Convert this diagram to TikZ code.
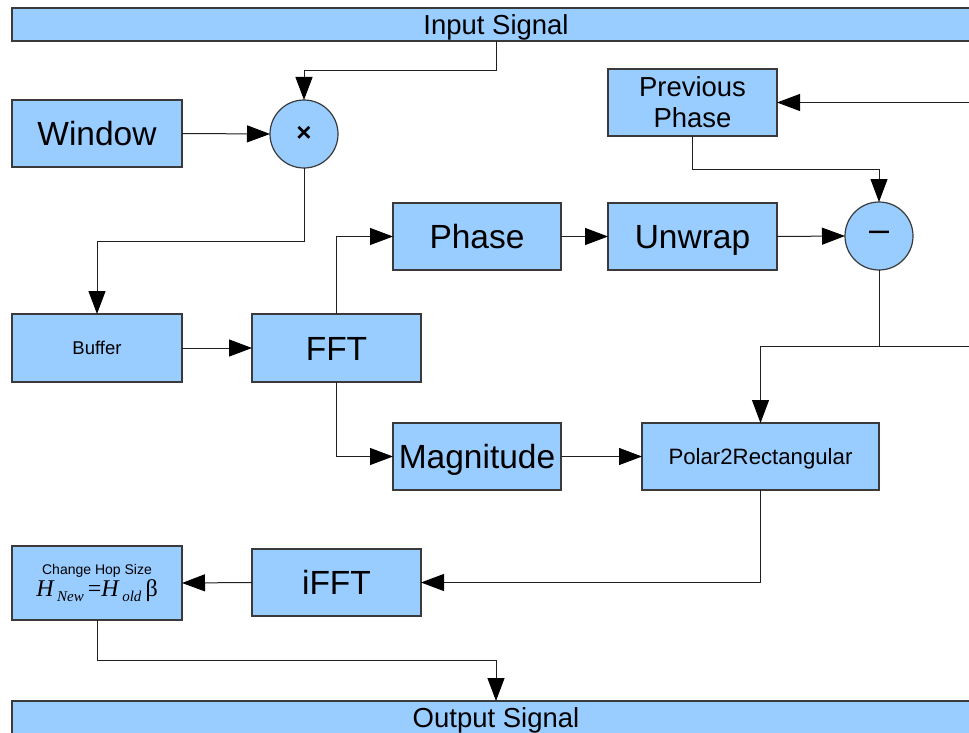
\documentclass[tikz,border=0pt]{standalone}
\usepackage{fontspec}
\setmainfont{Liberation Sans}
\newfontfamily\tms{Liberation Serif}
\usetikzlibrary{arrows.meta}
\definecolor{boxfill}{HTML}{99CCFF}
\definecolor{boxline}{HTML}{3A3A3A}
\definecolor{wire}{HTML}{202020}
\begin{document}
\begin{tikzpicture}[x=1pt,y=-1pt,
  blk/.style={draw=boxline,fill=boxfill,line width=1.2pt,inner sep=0pt,outer sep=0pt,align=center},
  bigtxt/.style={font=\fontsize{33.5}{40}\selectfont,text height=24pt,text depth=0pt},
  midtxt/.style={font=\fontsize{27.5}{31}\selectfont,text height=19.7pt,text depth=0pt},
  circ/.style={blk,circle,minimum size=68pt},
  wr/.style={draw=wire,line width=1pt},
  arr/.style={wr,-{Triangle[length=23pt,width=17pt,color=black,fill=black]}}]
\useasboundingbox (0,0) rectangle (969,733);
\fill[white] (0,0) rectangle (969,733);
% bars
\node[blk,midtxt,minimum width=968pt,minimum height=33pt] (in) at (496,24.5) {Input Signal};
\node[blk,midtxt,minimum width=968pt,minimum height=33pt] (out) at (496,717.5) {Output Signal};
% blocks
\node[blk,bigtxt,minimum width=170pt,minimum height=67pt] (win) at (97,133.5) {Window};
\node[circ,font=\fontsize{26}{30}\selectfont\bfseries] (mul) at (304,134) {×};
\node[blk,font=\fontsize{18.5}{22}\selectfont,text height=13.2pt,text depth=0pt,minimum width=170pt,minimum height=68pt] (buf) at (97,348) {Buffer};
\node[blk,bigtxt,minimum width=169pt,minimum height=68pt] (fft) at (336.5,348) {FFT};
\node[blk,bigtxt,minimum width=168pt,minimum height=67pt] (phase) at (477,236.5) {Phase};
\node[blk,bigtxt,minimum width=169pt,minimum height=67pt] (unwrap) at (692.5,236.5) {Unwrap};
\node[blk,font=\fontsize{27.5}{31}\selectfont,minimum width=169pt,minimum height=67pt] (prev) at (692.5,102.5) {Previous\\Phase};
\node[circ,font=\fontsize{36}{40}\selectfont] (minus) at (879,236) {\raisebox{-3pt}{–}};
\node[blk,bigtxt,minimum width=168pt,minimum height=67pt] (mag) at (477,456.5) {Magnitude};
\node[blk,font=\fontsize{22.2}{26}\selectfont,text height=15.9pt,text depth=0pt,minimum width=237pt,minimum height=67pt] (polar) at (760.5,456.5) {Polar2Rectangular};
\node[blk,bigtxt,minimum width=169pt,minimum height=67pt] (ifft) at (336.5,582.5) {iFFT};
\node[blk,minimum width=170pt,minimum height=74pt] (hop) at (97,583)
  {{\fontsize{14}{18}\selectfont Change Hop Size}\\[2pt]
   {\tms\fontsize{24}{26}\selectfont\textit{H}\raisebox{-5pt}{\fontsize{15}{16}\selectfont\,\textit{New}}\,=\textit{H}\raisebox{-5pt}{\fontsize{15}{16}\selectfont\,\textit{old}}\,β}};
% off-picture feedback ends
\coordinate (r1) at (969,102.5);
\coordinate (r2) at (969,346);
% connectors
\draw[arr] (in.south) -- ++(0,30) -| (mul.north);
\draw[arr] (win.east) -- (mul.west);
\draw[arr] (mul.south) -- ++(0,73) -| (buf.north);
\draw[arr] (buf.east) -- (fft.west);
\draw[arr] (fft.north) |- (phase.west);
\draw[arr] (fft.south) |- (mag.west);
\draw[arr] (phase.east) -- (unwrap.west);
\draw[arr] (unwrap.east) -- (minus.west);
\draw[arr] (r1) -- (prev.east);
\draw[arr] (prev.south) -- ++(0,33) -| (minus.north);
\draw[wr] (minus.south) -- (minus.south |- r2);
\draw[arr] (r2) -| (polar.north);
\draw[arr] (mag.east) -- (polar.west);
\draw[arr] (polar.south) |- (ifft.east);
\draw[arr] (ifft.west) -- (hop.east);
\draw[arr] (hop.south) -- ++(0,40) -| (out.north);
\end{tikzpicture}
\end{document}
